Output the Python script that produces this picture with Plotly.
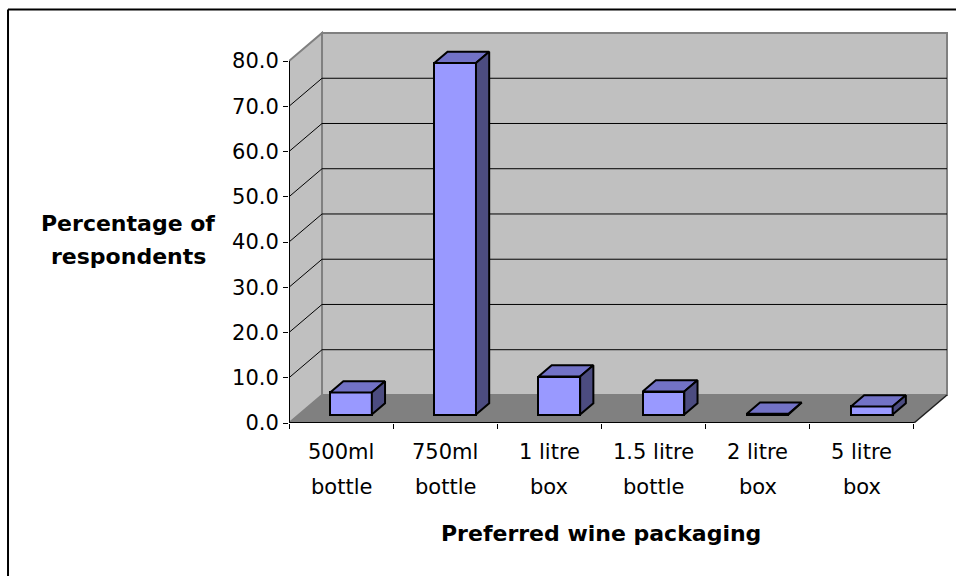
import plotly.graph_objects as go

# ---- data -------------------------------------------------------------
label_line1 = ["500ml", "750ml", "1 litre", "1.5 litre", "2 litre", "5 litre"]
label_line2 = ["bottle", "bottle", "box", "bottle", "box", "box"]
share_pct = [4.9, 77.7, 8.4, 5.1, 0.2, 1.8]
y_ticks = [0, 10, 20, 30, 40, 50, 60, 70, 80]

# ---- geometry of the oblique 3-D look ---------------------------------
FIG_W, FIG_H = 956, 576
UX, UY = 104.17, 4.52          # pixels per category / per percentage point
DX, DY = 0.317, 6.2            # depth of the floor in data units
FRONT, DEPTH = 0.3, 0.4        # bar position / thickness within the depth
BAR_W = 0.4
Y_MAX = 80

n = len(share_pct)
x_lo, x_hi = -0.5, n - 0.5 + DX + 4 / UX
y_lo, y_hi = 0, Y_MAX + DY + 4 / UY

L, B = 289, 153
W = (x_hi - x_lo) * UX
H = (y_hi - y_lo) * UY
R = FIG_W - L - W
T = FIG_H - B - H


def paper_x(px):
    return (px - L) / W


def paper_y(py):
    return (FIG_H - B - py) / H


FONT = "DejaVu Sans"
WALL = "#c0c0c0"
FLOOR = "#808080"
EDGE = "#808080"
FRONT_C, TOP_C, SIDE_C = "#9999ff", "#7272c6", "#4c4c80"

shapes = []
bx0, bx1 = -0.5 + DX, n - 0.5 + DX

# left wall
shapes.append(dict(type="path", layer="below", xref="x", yref="y",
                   path=f"M {-0.5},0 L {-0.5},{Y_MAX} L {bx0},{Y_MAX + DY} L {bx0},{DY} Z",
                   fillcolor=WALL, line=dict(color=EDGE, width=2)))
# back wall
shapes.append(dict(type="path", layer="below", xref="x", yref="y",
                   path=f"M {bx0},{DY} L {bx1},{DY} L {bx1},{Y_MAX + DY} L {bx0},{Y_MAX + DY} Z",
                   fillcolor=WALL, line=dict(color=EDGE, width=2)))
# floor
shapes.append(dict(type="path", layer="below", xref="x", yref="y",
                   path=f"M -0.5,0 L {n - 0.5},0 L {bx1},{DY} L {bx0},{DY} Z",
                   fillcolor=FLOOR, line=dict(width=0)))
# gridlines across the left and back walls
for v in y_ticks[1:-1]:
    shapes.append(dict(type="path", layer="below", xref="x", yref="y",
                       path=f"M -0.5,{v} L {bx0},{v + DY} L {bx1},{v + DY}",
                       line=dict(color="#000000", width=1)))
# right edge of the floor
shapes.append(dict(type="line", layer="below", xref="x", yref="y",
                   x0=n - 0.5, y0=0, x1=bx1, y1=DY,
                   line=dict(color="#202020", width=1.5)))
# outer frame of the chart (top and left sides run off the page)
shapes.append(dict(type="line", xref="paper", yref="paper",
                   x0=paper_x(8), y0=paper_y(10), x1=paper_x(FIG_W + 40), y1=paper_y(10),
                   line=dict(color="#000000", width=2)))
shapes.append(dict(type="line", xref="paper", yref="paper",
                   x0=paper_x(8), y0=paper_y(10), x1=paper_x(8), y1=paper_y(FIG_H + 40),
                   line=dict(color="#000000", width=2)))

fig = go.Figure()

# front faces of the columns
base = FRONT * DY
fig.add_trace(go.Bar(
    x=list(range(n)), y=share_pct, base=[base] * n,
    width=BAR_W, offset=-BAR_W / 2 + FRONT * DX,
    marker=dict(color=FRONT_C, line=dict(color="#000000", width=2)),
    hoverinfo="skip", showlegend=False,
))

# top and side faces
ddx, ddy = DEPTH * DX, DEPTH * DY
top_x, top_y, side_x, side_y = [], [], [], []
for i, v in enumerate(share_pct):
    x0 = i - BAR_W / 2 + FRONT * DX
    x1 = x0 + BAR_W
    yt = base + v
    top_x += [x0, x1, x1 + ddx, x0 + ddx, x0, None]
    top_y += [yt, yt, yt + ddy, yt + ddy, yt, None]
    side_x += [x1, x1 + ddx, x1 + ddx, x1, x1, None]
    side_y += [base, base + ddy, yt + ddy, yt, base, None]

fig.add_trace(go.Scatter(x=top_x, y=top_y, mode="lines", fill="toself",
                         fillcolor=TOP_C, line=dict(color="#000000", width=2),
                         hoverinfo="skip", showlegend=False))
fig.add_trace(go.Scatter(x=side_x, y=side_y, mode="lines", fill="toself",
                         fillcolor=SIDE_C, line=dict(color="#000000", width=2),
                         hoverinfo="skip", showlegend=False))

# front value axis and category axis lines
fig.add_trace(go.Scatter(x=[-0.5, -0.5, n - 0.5], y=[Y_MAX, 0, 0], mode="lines",
                         line=dict(color="#000000", width=2),
                         hoverinfo="skip", showlegend=False))

annotations = []
for i in range(n):
    annotations.append(dict(x=i, y=0, xref="x", yref="paper", text=label_line1[i],
                            showarrow=False, yanchor="middle", yshift=-29,
                            font=dict(family=FONT, size=21, color="#000000")))
    annotations.append(dict(x=i, y=0, xref="x", yref="paper", text=label_line2[i],
                            showarrow=False, yanchor="middle", yshift=-64,
                            font=dict(family=FONT, size=21, color="#000000")))
annotations.append(dict(x=(n - 1) / 2, y=0, xref="x", yref="paper",
                        text="<b>Preferred wine packaging</b>", showarrow=False,
                        yanchor="middle", yshift=-110,
                        font=dict(family=FONT, size=22, color="#000000")))
for txt, py in (("Percentage of", 224), ("respondents", 257)):
    annotations.append(dict(x=paper_x(128), y=paper_y(py), xref="paper", yref="paper",
                            text=f"<b>{txt}</b>", showarrow=False,
                            xanchor="center", yanchor="middle",
                            font=dict(family=FONT, size=22, color="#000000")))

fig.update_layout(
    width=FIG_W, height=FIG_H,
    margin=dict(l=L, r=R, t=T, b=B, pad=0),
    paper_bgcolor="#ffffff", plot_bgcolor="#ffffff",
    shapes=shapes, annotations=annotations,
    showlegend=False, bargap=0,
    xaxis=dict(range=[x_lo, x_hi], tickvals=[k - 0.5 for k in range(n + 1)],
               ticktext=[""] * (n + 1), ticks="outside", ticklen=5,
               tickcolor="#000000", tickwidth=1, showgrid=False,
               zeroline=False, showline=False, fixedrange=True),
    yaxis=dict(range=[y_lo, y_hi], tickvals=y_ticks,
               ticktext=[f"{v:.1f}" for v in y_ticks], ticks="outside",
               ticklen=5, tickcolor="#000000", tickwidth=1, showgrid=False,
               zeroline=False, showline=False, fixedrange=True,
               tickfont=dict(family=FONT, size=21, color="#000000")),
)

fig.write_html("out.html")
